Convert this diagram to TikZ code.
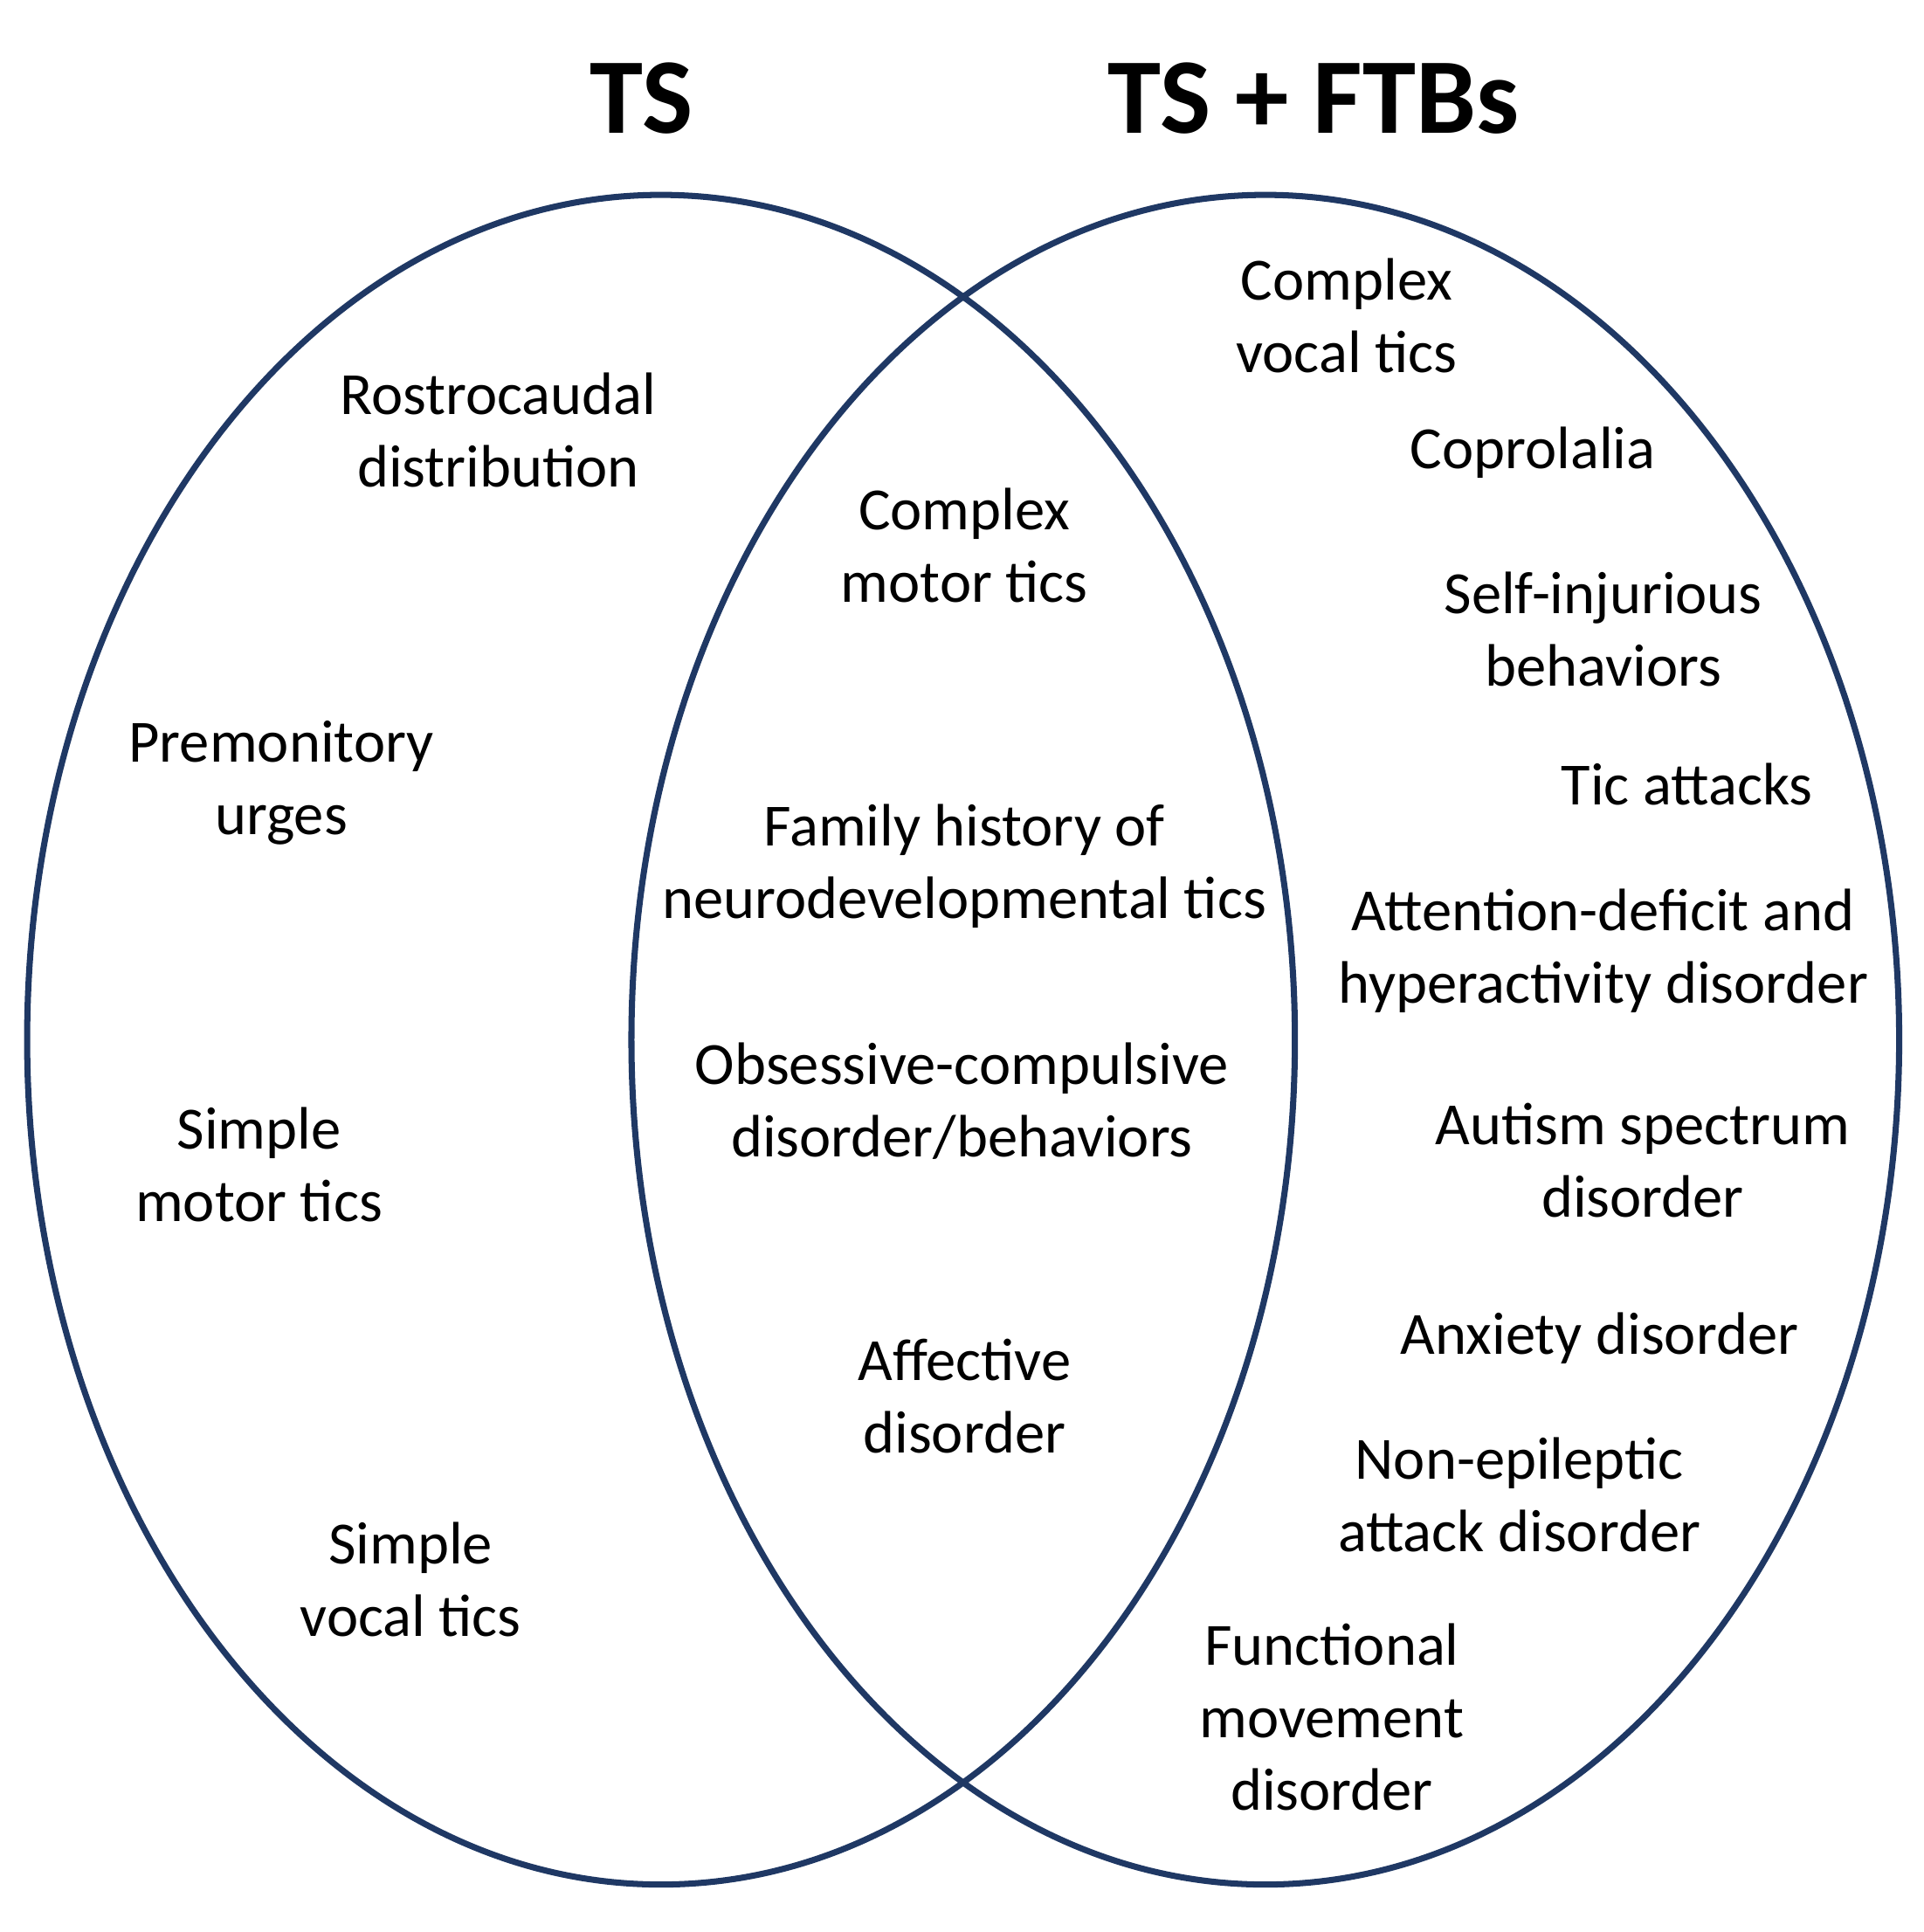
\documentclass[tikz,border=0pt]{standalone}
\usepackage{fontspec}
\setmainfont{Carlito}
\definecolor{navy}{HTML}{1F3864}
\begin{document}
\begin{tikzpicture}[x=0.01412cm,y=-0.01412cm,
  lbl/.style={align=center,font=\fontsize{19.5}{23.6}\selectfont,inner sep=0pt},
  ttl/.style={font=\fontsize{35}{40}\selectfont\bfseries,inner sep=0pt},
  ring/.style={draw=navy,line width=2pt}]
\useasboundingbox (0,0) rectangle (1560,1566.5);
\draw[ring] (536,843) ellipse [x radius=514,y radius=685];
\draw[ring] (1026,843) ellipse [x radius=514,y radius=685];
\node[ttl] (t1) at (520,80) {TS};
\node[ttl] (t2) at (1065,80) {TS + FTBs};
\node[lbl] (a1) at (404,349) {Rostrocaudal\\distribution};
\node[lbl] (a2) at (228,635) {Premonitory\\urges};
\node[lbl] (a3) at (210,944) {Simple\\motor tics};
\node[lbl] (a4) at (333,1281) {Simple\\vocal tics};
\node[lbl] (b1) at (782,442) {Complex\\motor tics};
\node[lbl] (b2) at (782,702) {Family history of\\neurodevelopmental tics};
\node[lbl] (b3) at (780,893) {Obsessive-compulsive\\disorder/behaviors};
\node[lbl] (b4) at (782,1132) {Affective\\disorder};
\node[lbl] (c1) at (1092,256) {Complex\\vocal tics};
\node[lbl] (c2) at (1243,367) {Coprolalia};
\node[lbl] (c3) at (1300,510) {Self-injurious\\behaviors};
\node[lbl] (c4) at (1368,636) {Tic attacks};
\node[lbl] (c5) at (1300,771) {Attention-deficit and\\hyperactivity disorder};
\node[lbl] (c6) at (1332,941) {Autism spectrum\\disorder};
\node[lbl] (c7) at (1297,1085) {Anxiety disorder};
\node[lbl] (c8) at (1232,1212) {Non-epileptic\\attack disorder};
\node[lbl] (c9) at (1080,1392) {Functional\\movement\\disorder};
\end{tikzpicture}
\end{document}
